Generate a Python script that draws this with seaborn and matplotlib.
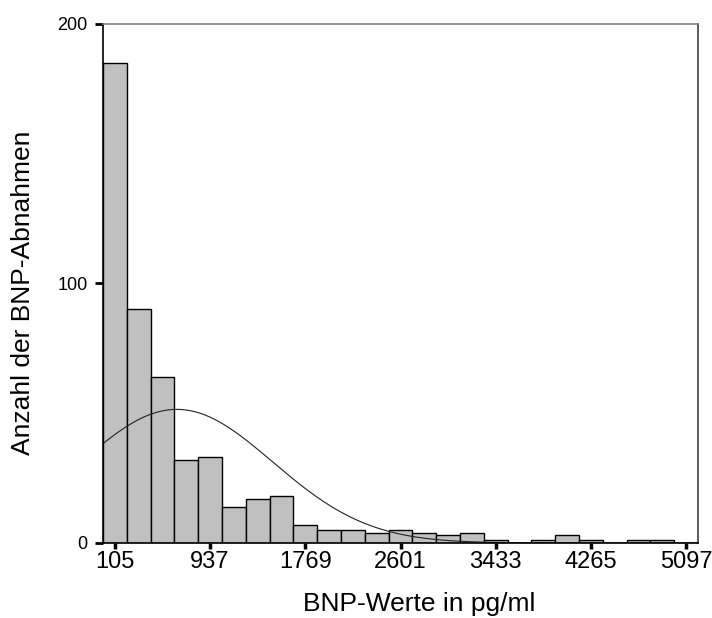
import numpy as np
import pandas as pd
import matplotlib
matplotlib.use("Agg")
import matplotlib.pyplot as plt
import seaborn as sns

# ---- data ----
tick_values = [105, 937, 1769, 2601, 3433, 4265, 5097]
bin_width = 208
bin_centers = [105 + bin_width * k for k in range(25)]
counts = [185, 90, 64, 32, 33, 14, 17, 18, 7, 5, 5, 4, 5, 4, 3, 4, 1, 0, 1, 3, 1, 0, 1, 1, 0]
y_ticks = [0, 100, 200]
# fitted normal curve (estimated)
normal_mean = 646
normal_sd = 838
normal_n = 520

sns.set_theme(style="white")
plt.rcParams['font.family'] = ['Liberation Sans', 'DejaVu Sans']
plt.rcParams['text.color'] = 'black'
plt.rcParams['axes.labelcolor'] = 'black'
plt.rcParams['xtick.color'] = 'black'
plt.rcParams['ytick.color'] = 'black'

fig = plt.figure(figsize=(7.12, 6.18), dpi=100)
ax = fig.add_axes([0.1447, 0.1214, 0.9803 - 0.1447, 0.9612 - 0.1214])

df = pd.DataFrame({"BNP": bin_centers, "n": counts})
edges = [c - bin_width / 2 for c in bin_centers] + [bin_centers[-1] + bin_width / 2]
sns.histplot(data=df, x="BNP", weights="n", bins=edges, ax=ax,
             color="#C0C0C0", edgecolor="black", linewidth=1.0, alpha=1.0)

xs = np.linspace(edges[0], edges[-1], 400)
ys = normal_n * bin_width / (normal_sd * np.sqrt(2 * np.pi)) * np.exp(-0.5 * ((xs - normal_mean) / normal_sd) ** 2)
sns.lineplot(x=xs, y=ys, ax=ax, color="#222222", linewidth=0.8)

ax.set_xlim(edges[0], edges[-1])
ax.set_ylim(0, 200)
ax.set_xticks(tick_values)
ax.set_xticklabels([str(v) for v in tick_values], fontsize=17)
ax.set_yticks(y_ticks)
ax.set_yticklabels([str(v) for v in y_ticks], fontsize=13)
ax.tick_params(axis="x", bottom=True, direction="out", length=4, width=2.5, colors="black", pad=2)
ax.tick_params(axis="y", left=True, direction="out", length=6, width=2, colors="black", pad=5)

for side in ["left", "bottom"]:
    ax.spines[side].set_color("black")
    ax.spines[side].set_linewidth(1.2)
ax.spines["top"].set_color("#808080")
ax.spines["top"].set_linewidth(1.2)
ax.spines["right"].set_color("#404040")
ax.spines["right"].set_linewidth(1.2)

ax.set_xlabel("BNP-Werte in pg/ml", fontsize=19, color="black")
ax.set_ylabel("Anzahl der BNP-Abnahmen", fontsize=19, color="black")
ax.xaxis.set_label_coords(0.531, -0.095)
ax.yaxis.set_label_coords(-0.115, 0.482)

fig.savefig("out.png", dpi=100)
